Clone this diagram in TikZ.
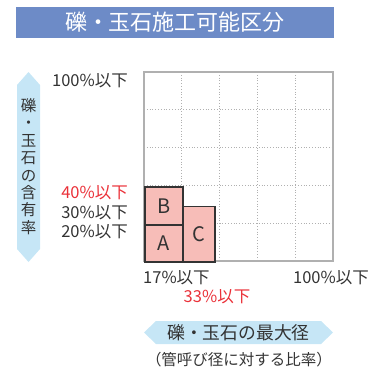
\documentclass[tikz,border=0pt]{standalone}
\usepackage{fontspec}
\setmainfont{Noto Sans CJK JP}
\definecolor{titleblue}{HTML}{6D8BC7}
\definecolor{boxpink}{HTML}{F7BDB8}
\definecolor{arrowblue}{HTML}{C6E6F6}
\definecolor{txtgray}{HTML}{333333}
\definecolor{redtxt}{HTML}{EA3038}
\definecolor{gridgray}{HTML}{B0B0B0}
\tikzset{
  lbl/.style={text=txtgray, font=\fontsize{16.5}{17}\selectfont, inner sep=0pt},
  redlbl/.style={lbl, text=redtxt},
  cellbox/.style={draw=txtgray, line width=1.6pt, fill=boxpink, inner sep=0pt,
    font=\fontsize{20}{20}\selectfont, text=txtgray},
  gridouter/.style={draw=gridgray, line width=1.2pt},
  gridinner/.style={draw=gridgray, line width=0.8pt, dotted},
  arrowshape/.style={fill=arrowblue, draw=none}
}
\begin{document}
\begin{tikzpicture}[x=1pt,y=-1pt]
\useasboundingbox (0,0) rectangle (370,373);
% title
\fill[titleblue] (16,7) rectangle (334,38);
\node[text=white, font=\fontsize{22}{22}\selectfont, inner sep=0pt] (title) at (175,22.5) {礫・玉石施工可能区分};
% grid
\foreach \k in {1,...,4} {
  \draw[gridinner] ({144+37.8*\k},72) -- ({144+37.8*\k},261);
  \draw[gridinner] (144,{72+37.8*\k}) -- (333,{72+37.8*\k});
}
\draw[gridouter] (144,72) rectangle (333,261);
% boxes
\node[cellbox, minimum width=38pt, minimum height=37pt, anchor=north west] (A) at (144,224) {A};
\node[cellbox, minimum width=38pt, minimum height=38pt, anchor=north west] (B) at (144,186) {B};
\node[cellbox, minimum width=32pt, minimum height=55.5pt, anchor=north west] (C) at (182,205.5) {C};
% y labels
\node[lbl, anchor=east] (y100) at (128,81) {100\%以下};
\node[redlbl, anchor=east] (y40) at (128,193) {40\%以下};
\node[lbl, anchor=east] (y30) at (128,213) {30\%以下};
\node[lbl, anchor=east] (y20) at (128,232) {20\%以下};
% x labels
\node[lbl, anchor=west] (x17) at (143,278) {17\%以下};
\node[lbl, anchor=east] (x100) at (369,278) {100\%以下};
\node[redlbl] (x33) at (217,297) {33\%以下};
% vertical arrow
\fill[arrowshape] (28.5,72) -- (40,85) -- (40,249) -- (28.5,262) -- (17,249) -- (17,85) -- cycle;
\node[text=txtgray, font=\fontsize{15.5}{17.4}\selectfont, align=center, inner sep=0pt] (vtext) at (28.5,166.5)
  {礫\\・\\玉\\石\\の\\含\\有\\率};
% horizontal arrow
\fill[arrowshape] (144,332.5) -- (156,321) -- (321,321) -- (333,332.5) -- (321,344) -- (156,344) -- cycle;
\node[text=txtgray, font=\fontsize{17.8}{18}\selectfont, inner sep=0pt] (htext) at (238.5,332.5) {礫・玉石の最大径};
\node[text=txtgray, font=\fontsize{15.5}{16}\selectfont, inner sep=0pt] (subtext) at (239,359.5) {（管呼び径に対する比率）};
\end{tikzpicture}
\end{document}
